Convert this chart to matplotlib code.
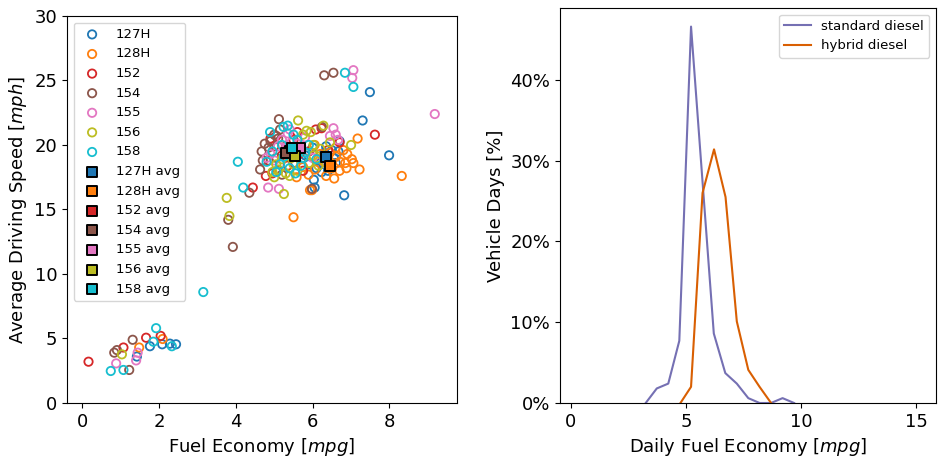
import numpy as np
import matplotlib
matplotlib.use("Agg")
import matplotlib.pyplot as plt
from matplotlib.ticker import PercentFormatter

# vehicle ids and colours (tab10 subset)
vehicles = ['127H', '128H', '152', '154', '155', '156', '158']
colors = ['#1f77b4', '#ff7f0e', '#d62728', '#8c564b', '#e377c2', '#bcbd22', '#17becf']

# daily (fuel economy [mpg], speed [mph])
pts_127H = [(6.3, 19.4), (6.5, 19.6), (6.67, 19.5), (6.2, 18.6), (6.4, 18.0), (6.23, 17.9),
            (6.03, 17.3), (6.82, 16.1), (7.99, 19.2), (7.3, 21.9), (7.49, 24.1), (6.7, 20.3),
            (6.55, 19.0), (5.9, 18.5), (6.0, 19.8), (6.6, 18.6), (5.8, 19.2), (6.1, 18.2),
            (6.35, 19.9), (5.7, 18.9), (6.05, 16.7), (6.45, 18.7),
            (1.76, 4.4), (2.08, 4.55), (2.28, 4.6), (2.44, 4.55), (1.42, 3.6)]
pts_128H = [(6.56, 17.4), (8.32, 17.6), (7.17, 20.5), (7.06, 18.6), (7.02, 18.9), (7.22, 18.1),
            (6.88, 18.2), (6.71, 18.7), (6.61, 19.1), (6.06, 18.1), (5.89, 17.7), (5.58, 17.5),
            (5.93, 16.5), (5.98, 16.5), (5.5, 14.4), (6.3, 18.7), (6.5, 18.2), (6.2, 19.3),
            (6.8, 19.6), (6.9, 19.3), (6.45, 19.4), (6.7, 18.0), (6.05, 20.0), (6.35, 17.6),
            (6.6, 19.8), (6.15, 18.9), (5.75, 18.3), (6.85, 18.6),
            (1.48, 4.3), (2.09, 4.96)]
pts_152 = [(7.62, 20.8), (6.08, 21.2), (6.23, 21.3), (4.44, 16.7), (4.78, 17.6), (5.0, 19.9),
           (5.2, 19.2), (4.9, 20.5), (5.35, 18.4), (5.6, 21.0), (6.4, 19.6), (4.85, 18.8),
           (5.1, 18.0), (5.5, 20.4), (6.7, 20.2), (5.9, 19.5), (5.75, 18.0), (5.05, 20.7),
           (5.3, 19.6), (4.95, 17.8), (5.65, 19.3),
           (0.16, 3.2), (1.07, 4.3), (1.66, 5.06), (2.04, 5.2)]
pts_154 = [(6.3, 25.4), (6.54, 25.6), (5.12, 22.0), (4.67, 19.5), (4.63, 18.1), (4.35, 16.3),
           (3.8, 14.2), (3.92, 12.1), (5.98, 16.6), (6.24, 21.4), (4.7, 18.8), (5.0, 20.8),
           (5.15, 21.2), (4.85, 19.8), (5.3, 19.9), (5.05, 19.0), (5.5, 18.6), (4.75, 20.1),
           (5.2, 17.7), (4.9, 20.3), (5.1, 20.5), (5.4, 19.1),
           (0.83, 3.9), (0.9, 4.1), (1.22, 2.56), (1.31, 4.9)]
pts_155 = [(7.06, 25.8), (7.03, 25.2), (9.18, 22.4), (6.54, 21.3), (6.6, 20.8), (6.66, 20.4),
           (4.84, 16.7), (5.12, 16.6), (5.0, 18.8), (5.3, 19.7), (5.45, 20.2), (5.7, 19.9),
           (5.2, 20.4), (5.55, 19.2), (4.9, 19.3), (5.8, 20.6), (6.0, 19.0), (5.4, 21.2),
           (5.1, 19.9), (6.3, 18.9), (4.8, 19.0), (5.35, 20.9), (5.6, 20.1), (6.45, 20.7),
           (0.88, 3.07), (1.4, 3.3), (1.44, 3.9)]
pts_156 = [(7.0, 20.0), (5.62, 21.9), (5.84, 21.1), (6.28, 21.5), (6.02, 19.2), (6.45, 20.2),
           (6.02, 20.0), (5.25, 16.2), (3.76, 15.9), (3.83, 14.5), (5.0, 17.5), (5.1, 18.1),
           (5.3, 17.8), (5.5, 18.5), (5.2, 18.9), (5.7, 19.6), (5.9, 18.6), (5.4, 17.6),
           (6.2, 19.7), (5.95, 21.0), (4.95, 17.9), (5.6, 18.0), (5.05, 18.5), (5.45, 19.0),
           (5.75, 20.8), (6.15, 18.4), (1.03, 3.77)]
pts_158 = [(6.84, 25.6), (7.06, 24.5), (4.05, 18.7), (4.19, 16.7), (3.15, 8.6), (4.89, 21.0),
           (5.24, 21.4), (5.35, 21.5), (5.6, 20.4), (5.5, 20.8), (5.2, 20.0), (5.8, 19.4),
           (5.4, 18.2), (5.05, 17.9), (5.55, 17.8), (4.8, 18.7), (5.7, 18.4), (6.1, 18.9),
           (5.25, 19.1), (5.6, 19.4), (5.9, 20.0), (4.95, 19.5), (5.15, 18.5), (5.75, 19.0),
           (0.74, 2.48), (1.07, 2.56), (1.92, 5.8), (1.85, 4.75), (2.33, 4.4)]

avg_mpg = [6.35, 6.45, 5.4, 5.3, 5.67, 5.54, 5.47]
avg_mph = [19.1, 18.4, 19.5, 19.35, 19.74, 19.17, 19.74]

# daily fuel economy distribution
std_mpg = [3.25, 3.73, 4.23, 4.71, 5.22, 5.73, 6.21, 6.71, 7.21, 7.71, 8.2, 8.7, 9.2, 9.7]
std_frac = [0.0, 0.018, 0.024, 0.077, 0.466, 0.27, 0.086, 0.037, 0.024, 0.006, 0.0, 0.0, 0.006, 0.0]
hyb_mpg = [4.76, 5.22, 5.72, 6.22, 6.72, 7.21, 7.71, 8.2, 8.7]
hyb_frac = [0.0, 0.02, 0.26, 0.314, 0.255, 0.101, 0.041, 0.02, 0.0]

all_pts = [pts_127H, pts_128H, pts_152, pts_154, pts_155, pts_156, pts_158]

plt.rcParams['font.family'] = 'DejaVu Sans'
fig = plt.figure(figsize=(9.4, 4.57), dpi=100)
fig.set_facecolor('white')

ax1 = fig.add_axes([0.0713, 0.1182, 0.4149, 0.8468])
for name, c, p in zip(vehicles, colors, all_pts):
    p = np.array(p)
    ax1.scatter(p[:, 0], p[:, 1], s=36, facecolors='none', edgecolors=c, linewidths=1.3, label=name)
for name, c, x, y in zip(vehicles, colors, avg_mpg, avg_mph):
    ax1.scatter([x], [y], s=55, marker='s', color=c, edgecolors='black', linewidths=1.4,
                zorder=3, label=name + ' avg')
ax1.set_xlim(-0.4, 9.76)
ax1.set_ylim(0, 30)
ax1.set_xticks([0, 2, 4, 6, 8])
ax1.set_xlabel('Fuel Economy [$mpg$]', fontsize=13)
ax1.set_ylabel('Average Driving Speed [$mph$]', fontsize=13)
ax1.tick_params(labelsize=13)
ax1.legend(loc='upper left', fontsize=9.5, scatterpoints=1)

ax2 = fig.add_axes([0.5957, 0.1182, 0.4, 0.8643])
ax2.plot(std_mpg, std_frac, color='#7570b3', linewidth=1.5, label='standard diesel')
ax2.plot(hyb_mpg, hyb_frac, color='#d95f02', linewidth=1.5, label='hybrid diesel')
ax2.set_xlim(-0.48, 15.87)
ax2.set_ylim(0, 0.489)
ax2.set_xticks([0, 5, 10, 15])
ax2.set_yticks([0, 0.1, 0.2, 0.3, 0.4])
ax2.yaxis.set_major_formatter(PercentFormatter(xmax=1, decimals=0))
ax2.set_xlabel('Daily Fuel Economy [$mpg$]', fontsize=13)
ax2.set_ylabel('Vehicle Days [%]', fontsize=13)
ax2.tick_params(labelsize=13)
ax2.legend(loc='upper right', fontsize=9.5)

fig.savefig('out.png', dpi=100, facecolor='white')
